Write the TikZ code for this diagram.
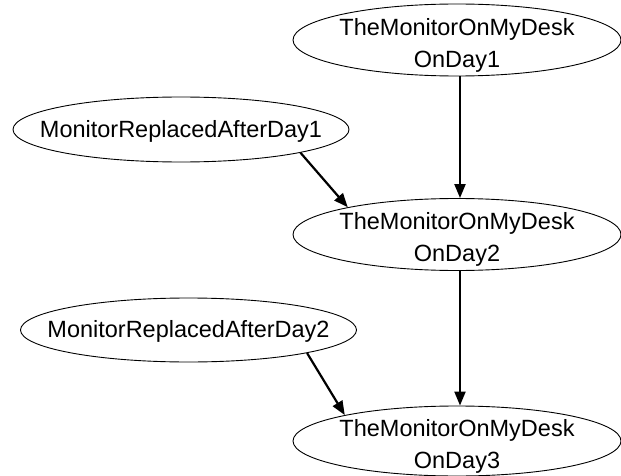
\documentclass[tikz,border=0pt]{standalone}
\usepackage{fontspec}
\setmainfont{Liberation Sans}
\usetikzlibrary{shapes.geometric,arrows.meta}
\begin{document}
\begin{tikzpicture}[x=1pt,y=-1pt,
  ell/.style={draw,ellipse,inner sep=0pt,line width=0.9pt},
  txt/.style={align=center,inner sep=0pt,font=\fontsize{23.5}{32}\selectfont},
  daytxt/.style={txt,yshift=-5pt},
  reptxt/.style={txt,yshift=-1.5pt},
  dayell/.style={ell,minimum width=328pt,minimum height=72pt},
  repell/.style={ell,minimum width=336pt,minimum height=65pt},
  edge/.style={line width=2.2pt,-{Triangle[length=14pt,width=11pt]}}]
\useasboundingbox (0,0) rectangle (621,476);
\node[dayell,label={[daytxt]center:TheMonitorOnMyDesk\\OnDay1}] (d1) at (457,40) {};
\node[dayell,label={[daytxt]center:TheMonitorOnMyDesk\\OnDay2}] (d2) at (457,234.5) {};
\node[dayell,minimum height=70pt,label={[daytxt]center:TheMonitorOnMyDesk\\OnDay3}] (d3) at (457,441) {};
\node[repell,label={[reptxt]center:MonitorReplacedAfterDay1}] (r1) at (181,129.5) {};
\node[repell,minimum height=64pt,label={[reptxt]center:MonitorReplacedAfterDay2}] (r2) at (188.5,330) {};
\draw[edge] (d1.south -| 460,0) -- (d2.north -| 460,0);
\draw[edge] (d2.south -| 460,0) -- (d3.north -| 460,0);
\draw[edge] (r1.-11.5) -- (d2.166);
\draw[edge] (r2.-11.8) -- (d3.167);
\end{tikzpicture}
\end{document}
